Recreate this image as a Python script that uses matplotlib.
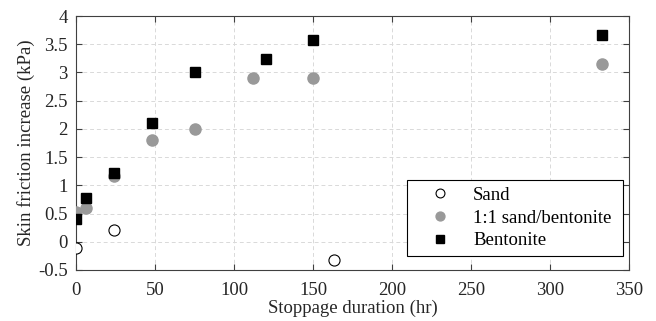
import matplotlib.pyplot as plt
import numpy as np

plt.rcParams['font.family'] = ['Liberation Serif', 'DejaVu Serif']
plt.rcParams['mathtext.fontset'] = 'stix'

# data
sand_t = [0, 24, 163]
sand_f = [-0.11, 0.21, -0.33]

mix_t = [0, 6, 24, 48, 75, 112, 150, 333]
mix_f = [0.52, 0.59, 1.16, 1.81, 2.0, 2.91, 2.91, 3.15]

bent_t = [0, 6, 24, 48, 75, 120, 150, 333]
bent_f = [0.41, 0.77, 1.21, 2.10, 3.0, 3.24, 3.57, 3.67]

fig = plt.figure(figsize=(6.56, 3.21), dpi=100)
ax = fig.add_axes([0.116, 0.159, 0.843, 0.791])

ax.plot(sand_t, sand_f, 'o', mfc='white', mec='black', mew=0.8, ms=8,
        label='Sand', zorder=3)
ax.plot(mix_t, mix_f, 'o', mfc='#999999', mec='#999999', ms=8,
        label='1:1 sand/bentonite', zorder=3)
ax.plot(bent_t, bent_f, 's', mfc='black', mec='black', ms=6.5,
        label='Bentonite', zorder=4)

ax.set_xlim(0, 350)
ax.set_ylim(-0.5, 4)
ax.set_xticks(np.arange(0, 351, 50))
ax.set_yticks(np.arange(-0.5, 4.01, 0.5))
ax.set_yticklabels(['-0.5', '0', '0.5', '1', '1.5', '2', '2.5', '3', '3.5', '4'])

ax.grid(True, color='#d9d9d9', linestyle=(0, (4, 3)), linewidth=0.7)
ax.set_axisbelow(True)
ax.tick_params(direction='in', top=True, right=True, labelsize=13.5,
               color='#404040', labelcolor='#262626', length=4)
ax.tick_params(axis='x', pad=9)
ax.tick_params(axis='y', pad=6)
for s in ax.spines.values():
    s.set_color('#404040')
    s.set_linewidth(0.8)

ax.set_xlabel('Stoppage duration (hr)', fontsize=13.5, labelpad=0,
              color='#262626')
ax.set_ylabel('Skin friction increase (kPa)', fontsize=13.5, labelpad=2,
              color='#262626')

leg = ax.legend(loc='lower left', bbox_to_anchor=(0.5986, 0.0551, 0.3906, 0.1),
                mode='expand', borderaxespad=0, fontsize=13.5, fancybox=False,
                edgecolor='black', framealpha=1, markerscale=0.8,
                handlelength=2.8, handletextpad=0.37,
                labelspacing=0.3, borderpad=0.35)
leg.get_frame().set_linewidth(0.8)

fig.savefig('out.png', dpi=100)
